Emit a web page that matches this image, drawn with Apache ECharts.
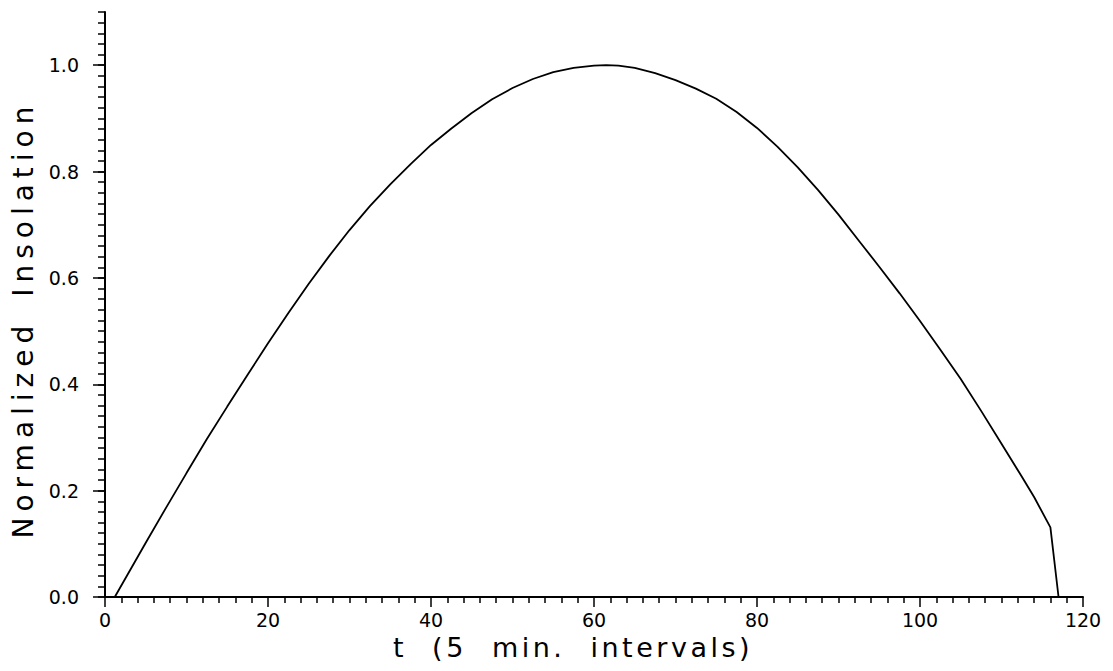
<!DOCTYPE html>
<html>
<head>
<meta charset="utf-8">
<script src="https://cdn.jsdelivr.net/npm/echarts@6/dist/echarts.min.js"></script>
<style>
  html, body { margin: 0; padding: 0; background: #fff; }
  #chart { width: 1113px; height: 671px; }
  text[style*="27px"] { letter-spacing: 3.5px; word-spacing: 13px; }
  text[style*="28px"] { letter-spacing: 6px; word-spacing: 8px; }
</style>
</head>
<body>
<div id="chart"></div>
<script>
// time steps (5 min. intervals)
const tValues = [1.2, 5, 7.5, 10, 12.5, 15, 17.5, 20, 22.5, 25, 27.5, 30, 32.5, 35, 37.5, 40, 42.5, 45, 47.5, 50, 52.5, 55, 57.5, 60, 61.5, 63, 65, 67.5, 70, 72.5, 75, 77.5, 80, 82.5, 85, 87.5, 90, 92.5, 95, 97.5, 100, 102.5, 105, 107.5, 110, 112.5, 114, 116, 117];
// normalized insolation
const insolation = [0, 0.102, 0.168, 0.233, 0.297, 0.358, 0.418, 0.477, 0.534, 0.589, 0.641, 0.690, 0.735, 0.776, 0.814, 0.850, 0.881, 0.910, 0.936, 0.957, 0.974, 0.987, 0.995, 0.999, 1.0, 0.999, 0.995, 0.985, 0.972, 0.956, 0.937, 0.912, 0.882, 0.847, 0.808, 0.765, 0.719, 0.670, 0.621, 0.571, 0.519, 0.465, 0.410, 0.350, 0.288, 0.226, 0.188, 0.131, 0];
const yTickLabels = [0, 0.2, 0.4, 0.6, 0.8, 1.0];
const xTickLabels = [0, 20, 40, 60, 80, 100, 120];
const xName = 't (5 min. intervals)';
const yName = 'Normalized Insolation';

const seriesData = tValues.map((t, i) => [t, insolation[i]]);

const chart = echarts.init(document.getElementById('chart'), null, { renderer: 'svg' });
const black = '#000';
const labelFont = 'DejaVu Sans';

chart.setOption({
  animation: false,
  backgroundColor: '#fff',
  grid: { left: 105, right: 30, top: 12, bottom: 74, containLabel: false },
  xAxis: {
    type: 'value',
    min: 0, max: 120, interval: 20,
    name: xName,
    nameLocation: 'middle',
    nameGap: 25,
    nameTextStyle: { fontFamily: labelFont, fontSize: 27, color: black, verticalAlign: 'top', padding: [0, 42, 0, 0] },
    axisLine: { show: true, lineStyle: { color: black, width: 2 } },
    axisTick: { show: true, length: 10, lineStyle: { color: black, width: 1.5 }, customValues: xTickLabels },
    minorTick: { show: true, splitNumber: 10, length: 6, lineStyle: { color: black, width: 1.5 } },
    splitLine: { show: false },
    minorSplitLine: { show: false },
    axisLabel: { margin: 13, fontFamily: labelFont, fontSize: 19, color: black, customValues: xTickLabels, formatter: v => String(v) }
  },
  yAxis: [
    {
      type: 'value',
      min: 0, max: 1.1, interval: 0.2,
      position: 'left',
      name: yName,
      nameLocation: 'middle',
      nameGap: 60,
      nameTextStyle: { fontFamily: labelFont, fontSize: 28, color: black, padding: [0, 30, 0, 0] },
      axisLine: { show: true, lineStyle: { color: black, width: 2 } },
      axisTick: { show: true, length: 12, lineStyle: { color: black, width: 1.5 }, customValues: yTickLabels },
      splitLine: { show: false },
      axisLabel: {
        margin: 26, fontFamily: labelFont, fontSize: 19, color: black,
        customValues: yTickLabels,
        formatter: v => (v > 1.05 ? '' : Number(v).toFixed(1))
      }
    },
    {
      type: 'value',
      min: 0, max: 1.1, interval: 0.02,
      position: 'left',
      offset: 0,
      axisLine: { show: false },
      axisTick: { show: true, length: 7, lineStyle: { color: black, width: 1.5 } },
      axisLabel: { show: false },
      splitLine: { show: false }
    }
  ],
  series: [{
    type: 'line',
    xAxisIndex: 0,
    yAxisIndex: 0,
    data: seriesData,
    symbol: 'none',
    smooth: false,
    lineStyle: { color: black, width: 1.8 }
  }]
});
</script>
</body>
</html>
